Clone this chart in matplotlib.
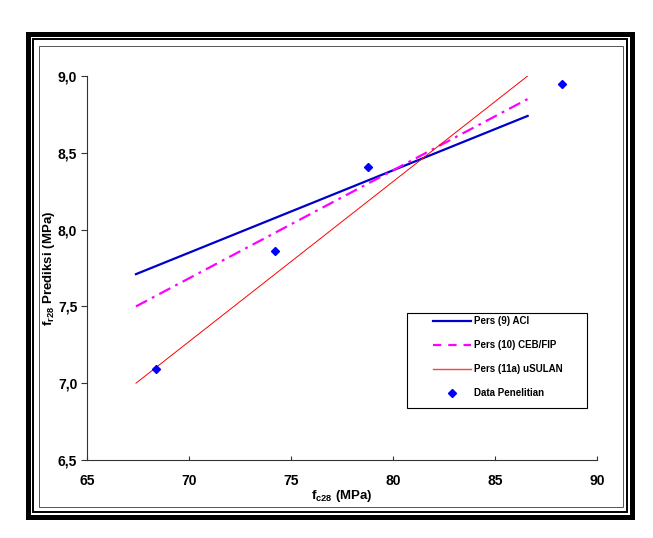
import numpy as np
import matplotlib
matplotlib.use("Agg")
import matplotlib.pyplot as plt
from matplotlib.patches import Rectangle
from matplotlib.lines import Line2D
from matplotlib.ticker import FuncFormatter, MultipleLocator

# data
fc28_data = [68.4, 74.2, 78.75, 88.3]
fr28_data = [7.09, 7.86, 8.41, 8.95]

line_x = [67.4, 86.6]
aci_y = [7.71, 8.74]
ceb_y = [7.50, 8.85]
usulan_y = [7.00, 9.00]

labels = ["Pers (9) ACI", "Pers (10) CEB/FIP", "Pers (11a) uSULAN", "Data Penelitian"]

W, H = 653, 538

plt.rcParams['font.family'] = ['Liberation Sans', 'DejaVu Sans']
plt.rcParams['mathtext.fontset'] = 'custom'
plt.rcParams['mathtext.rm'] = 'Liberation Sans:bold'
plt.rcParams['mathtext.default'] = 'rm'
plt.rcParams['lines.scale_dashes'] = False


def fx(x):
    return x / W


def fy(y):
    return 1 - y / H


fig = plt.figure(figsize=(W / 100, H / 100), dpi=100)
fig.patch.set_facecolor('white')

ax = fig.add_axes([fx(87), fy(460), (597 - 87) / W, (460 - 76) / H])

ax.plot(line_x, aci_y, color='#0000cc', lw=1.6)
ax.plot(line_x, ceb_y, color='#ff00ff', lw=1.6, dashes=(9, 4, 2, 4))
ax.plot(line_x, usulan_y, color='#ff0000', lw=0.7)
ax.plot(fc28_data, fr28_data, ls='none', marker='D', ms=3.8, color='#0000ff')

ax.set_xlim(65, 90)
ax.set_ylim(6.5, 9.0)
ax.xaxis.set_major_locator(MultipleLocator(5))
ax.yaxis.set_major_locator(MultipleLocator(0.5))
ax.yaxis.set_major_formatter(FuncFormatter(lambda v, p: f"{v:.1f}".replace('.', ',')))

for s in ['top', 'right']:
    ax.spines[s].set_visible(False)
for s in ['left', 'bottom']:
    ax.spines[s].set_color('#333333')
    ax.spines[s].set_linewidth(0.8)

ax.tick_params(axis='x', direction='in', length=3, width=0.8, pad=10, color='#333333')
ax.tick_params(axis='y', direction='out', length=4, width=0.8, pad=3, color='#333333')
for t in ax.get_xticklabels() + ax.get_yticklabels():
    t.set_fontsize(10)
    t.set_fontweight('bold')

ax.set_xlabel("f$_{c28}$ (MPa)", fontsize=9.5, fontweight='bold', labelpad=0)
ax.set_ylabel("f$_{r28}$ Prediksi (MPa)", fontsize=9.5, fontweight='bold', labelpad=1)

# legend handles (slightly heavier red line as in the reference key)
handles = [
    Line2D([], [], color='#0000cc', lw=1.6),
    Line2D([], [], color='#ff00ff', lw=1.6, dashes=(6, 5)),
    Line2D([], [], color='#ff4040', lw=1.0),
    Line2D([], [], ls='none', marker='D', ms=3.8, color='#0000ff'),
]
leg = fig.legend(handles=handles, labels=labels, loc='upper left',
                 bbox_to_anchor=(fx(432.7), fy(316)), frameon=False,
                 prop={'weight': 'bold', 'size': 7},
                 handlelength=3.9, handletextpad=0.3, labelspacing=1.45,
                 borderpad=0, borderaxespad=0, numpoints=1)

# legend box
fig.add_artist(Rectangle((fx(406.7), fy(408.3)), (586.7 - 406.7) / W, (408.3 - 312.7) / H,
                         transform=fig.transFigure, fill=False, ec='black', lw=0.8))

# triple frame around the chart
frames = [
    (27.5, 33.5, 632, 517, 3.6, 'black'),
    (33, 39, 627, 512, 1.4, 'black'),
    (38.5, 45.5, 622.5, 506.5, 0.7, '#555555'),
]
for x0, y0, x1, y1, lw, c in frames:
    fig.add_artist(Rectangle((fx(x0), fy(y1)), (x1 - x0) / W, (y1 - y0) / H,
                             transform=fig.transFigure, fill=False, ec=c, lw=lw))

fig.savefig("out.png", dpi=100, facecolor='white')
